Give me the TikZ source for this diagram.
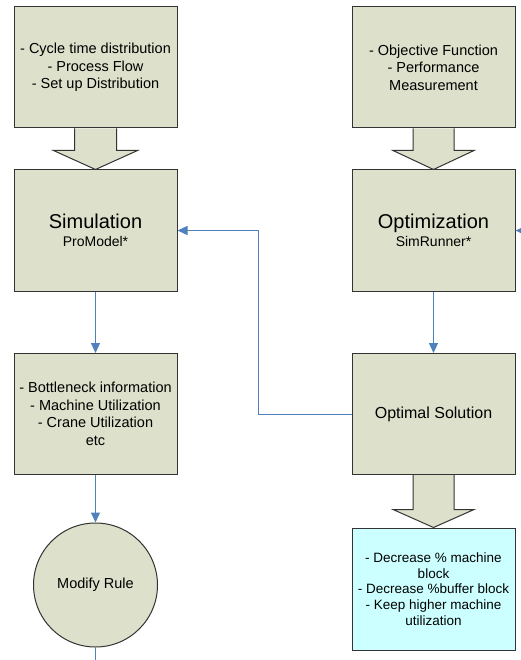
\documentclass[tikz,border=0pt]{standalone}
\usepackage{fontspec}
\setmainfont{Liberation Sans}
\usetikzlibrary{arrows.meta,calc}
\definecolor{boxfill}{HTML}{DDE0CA}
\definecolor{boxline}{HTML}{333333}
\definecolor{linkblue}{HTML}{4F81BD}
\definecolor{cyanfill}{HTML}{CCFFFF}
\tikzset{
  blk/.style={draw=boxline, line width=1pt, fill=boxfill, rectangle, minimum width=163pt, minimum height=121pt, inner sep=0pt, align=center, font=\fontsize{14.5}{17.5}\selectfont},
  cyanblk/.style={blk, fill=cyanfill, minimum height=122pt, font=\fontsize{13.5}{15.7}\selectfont},
  rulecircle/.style={draw=boxline, line width=1pt, fill=boxfill, circle, minimum size=124pt, inner sep=0pt, font=\fontsize{14.5}{17}\selectfont},
  link/.style={draw=linkblue, line width=1pt, -{Triangle[length=10pt,width=9pt]}},
  plainlink/.style={draw=linkblue, line width=1pt},
  fat/.style={draw=boxline, line width=1pt, fill=boxfill, line join=miter}
}
\begin{document}
\begin{tikzpicture}[x=1pt,y=-1pt]
\useasboundingbox (0,0) rectangle (521,660);
% left column
\node[blk] (inputs) at (95.5,67.5) {- Cycle time distribution\\- Process Flow\\- Set up Distribution};
\node[blk] (sim) at (95.5,230.5) {{\fontsize{20}{22}\selectfont Simulation}\\[1pt]{\fontsize{14}{16}\selectfont ProModel*}};
\node[blk] (bott) at (95.5,414) {- Bottleneck information\\- Machine Utilization\\- Crane Utilization\\etc};
\node[rulecircle] (rule) at (95.5,585) {Modify Rule};
% right column
\node[blk] (obj) at (433.5,67.5) {- Objective Function\\- Performance\\Measurement};
\node[blk] (opt) at (433.5,230.5) {{\fontsize{20}{22}\selectfont Optimization}\\[1pt]{\fontsize{14}{16}\selectfont SimRunner*}};
\node[blk, font=\fontsize{16}{18}\selectfont] (optsol) at (433.5,414) {Optimal Solution};
\node[cyanblk] (goals) at (433.5,589) {- Decrease \% machine\\block\\- Decrease \%buffer block\\- Keep higher machine\\utilization};
% fat arrows
\draw[fat] ($(inputs.south)+(-21,0)$) -- ($(sim.north)+(-21,-19)$) -- ($(sim.north)+(-42,-19)$) -- (sim.north) -- ($(sim.north)+(42,-19)$) -- ($(sim.north)+(21,-19)$) -- ($(inputs.south)+(21,0)$);
\draw[fat] ($(obj.south)+(-20.5,0)$) -- ($(opt.north)+(-20.5,-19)$) -- ($(opt.north)+(-40.5,-19)$) -- (opt.north) -- ($(opt.north)+(40.5,-19)$) -- ($(opt.north)+(20.5,-19)$) -- ($(obj.south)+(20.5,0)$);
\draw[fat] ($(optsol.south)+(-20.5,0)$) -- ($(goals.north)+(-20.5,-18)$) -- ($(goals.north)+(-40.5,-18)$) -- (goals.north) -- ($(goals.north)+(40.5,-18)$) -- ($(goals.north)+(20.5,-18)$) -- ($(optsol.south)+(20.5,0)$);
% connectors
\coordinate (bend) at (258,413);
\coordinate (offright) at (545,231);
\coordinate (offbottom) at (95.5,680);
\draw[link] (sim.south) -- (bott.north);
\draw[link] (bott.south) -- (rule.north);
\draw[plainlink] (rule.south) -- (offbottom);
\draw[link] (opt.south) -- (optsol.north);
\draw[link] (optsol.west) -| (bend |- sim.east) -- (sim.east);
\draw[link] (offright) -- (opt.east);
\end{tikzpicture}
\end{document}
